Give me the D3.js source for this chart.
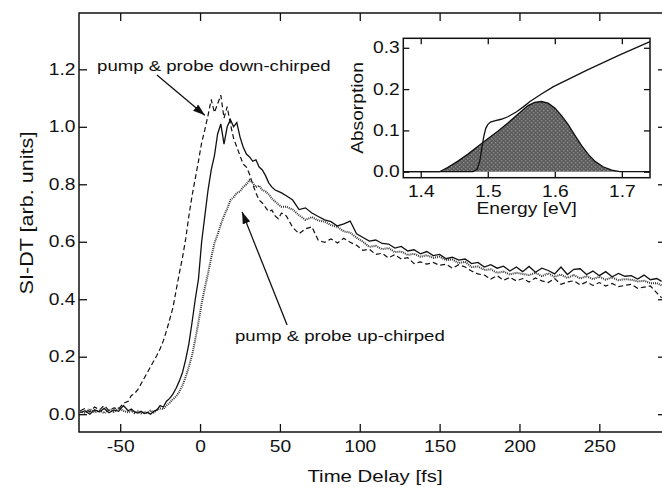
<!DOCTYPE html>
<html>
<head>
<meta charset="utf-8">
<script src="https://cdn.jsdelivr.net/npm/d3@7"></script>
<style>
  body { margin: 0; background: #fff; }
  svg text { font-family: "Liberation Sans", Arial, sans-serif; fill: #111; font-size: 16px; }
</style>
</head>
<body>
<div id="plot"></div>
<script>
// time delay (fs), shared by the three traces
let timeDelay = [-75, -72, -69, -66, -63, -60, -57, -54, -51, -48, -45,
  -43, -41, -39, -37, -35, -33, -31, -29, -27, -25, -23, -21, -19, -17, -15, -13, -11, -9, -7, -5, -3, -1,
  1, 3, 5, 7, 9, 11, 13, 15, 17, 19, 21, 23, 25, 27, 29, 31, 33, 35, 37, 39, 41, 43, 45, 47, 49, 51,
  54, 58, 62, 66, 70, 74, 78, 82, 86, 90, 94, 98, 102, 106, 110, 114, 118, 122, 126, 130,
  134, 138, 142, 146, 150, 154, 158, 162, 166, 170, 174, 178, 182, 186, 190, 194, 198, 202, 206, 210,
  214, 218, 222, 226, 230, 234, 238, 242, 246, 250, 254, 258, 262, 266, 270, 274, 278, 282, 286, 289]

// dashed: pump & probe down-chirped
let downChirped = [0.012, 0.020, 0.008, 0.025, 0.015, 0.030, 0.012, 0.022, 0.018, 0.038, 0.045,
  0.065, 0.072, 0.085, 0.105, 0.125, 0.145, 0.165, 0.185, 0.205, 0.228, 0.255, 0.290, 0.330, 0.370, 0.430, 0.490, 0.545, 0.610, 0.690, 0.760, 0.820, 0.880,
  0.945, 0.990, 1.040, 1.095, 1.050, 1.080, 1.110, 1.030, 1.070, 1.010, 0.960, 0.930, 0.900, 0.870, 0.860, 0.835, 0.800, 0.770, 0.745, 0.735, 0.720, 0.705, 0.710, 0.690, 0.680, 0.700,
  0.690, 0.650, 0.628, 0.645, 0.652, 0.605, 0.598, 0.610, 0.596, 0.612, 0.598, 0.588, 0.570, 0.574, 0.556, 0.560, 0.544, 0.555, 0.540, 0.545,
  0.524, 0.530, 0.522, 0.528, 0.518, 0.522, 0.508, 0.520, 0.512, 0.498, 0.488, 0.484, 0.470, 0.482, 0.466, 0.476, 0.464, 0.472, 0.460, 0.474,
  0.464, 0.458, 0.472, 0.452, 0.460, 0.464, 0.450, 0.460, 0.448, 0.458, 0.446, 0.455, 0.444, 0.448, 0.452, 0.438, 0.442, 0.446, 0.422, 0.405]

// solid trace
let solidTrace = [0.005, 0.012, 0.000, 0.015, 0.008, 0.020, 0.005, 0.015, 0.010, 0.030, 0.012,
  0.018, 0.008, 0.004, 0.010, 0.002, 0.006, 0.000, 0.010, 0.015, 0.030, 0.025, 0.045, 0.055, 0.070, 0.090, 0.115, 0.145, 0.190, 0.245, 0.320, 0.400, 0.470,
  0.600, 0.690, 0.780, 0.850, 0.900, 0.975, 1.010, 0.940, 1.000, 1.025, 1.000, 1.015, 0.965, 0.930, 0.905, 0.895, 0.880, 0.885, 0.860, 0.850, 0.830, 0.805, 0.790, 0.780, 0.775, 0.770,
  0.760, 0.745, 0.712, 0.718, 0.700, 0.688, 0.676, 0.670, 0.655, 0.662, 0.672, 0.628, 0.615, 0.602, 0.606, 0.594, 0.592, 0.578, 0.584, 0.568,
  0.572, 0.558, 0.566, 0.552, 0.556, 0.541, 0.546, 0.536, 0.540, 0.524, 0.528, 0.512, 0.520, 0.508, 0.515, 0.498, 0.512, 0.496, 0.514, 0.494,
  0.508, 0.500, 0.488, 0.512, 0.486, 0.504, 0.506, 0.486, 0.498, 0.482, 0.496, 0.478, 0.490, 0.480, 0.482, 0.470, 0.484, 0.468, 0.472, 0.462]

// dotted: pump & probe up-chirped
let upChirped = [0.010, 0.004, 0.018, 0.006, 0.012, 0.004, 0.016, 0.008, 0.020, 0.012, 0.006,
  0.012, 0.004, 0.010, 0.003, 0.008, 0.004, 0.012, 0.006, 0.014, 0.020, 0.018, 0.030, 0.040, 0.052, 0.062, 0.078, 0.100, 0.130, 0.165, 0.205, 0.260, 0.320,
  0.385, 0.440, 0.490, 0.545, 0.595, 0.625, 0.660, 0.690, 0.715, 0.745, 0.755, 0.770, 0.775, 0.790, 0.800, 0.815, 0.805, 0.790, 0.795, 0.780, 0.775, 0.765, 0.750, 0.740, 0.730, 0.722,
  0.722, 0.712, 0.692, 0.676, 0.686, 0.674, 0.670, 0.658, 0.652, 0.636, 0.632, 0.614, 0.600, 0.582, 0.586, 0.574, 0.578, 0.564, 0.566, 0.554,
  0.558, 0.548, 0.553, 0.544, 0.548, 0.536, 0.538, 0.526, 0.530, 0.512, 0.514, 0.502, 0.504, 0.492, 0.496, 0.486, 0.492, 0.488, 0.484, 0.492,
  0.480, 0.490, 0.478, 0.486, 0.474, 0.484, 0.472, 0.480, 0.470, 0.478, 0.468, 0.476, 0.466, 0.470, 0.468, 0.462, 0.464, 0.456, 0.456, 0.448]

let xTicks = [-50, 0, 50, 100, 150, 200, 250]
let yTicks = [0, 0.2, 0.4, 0.6, 0.8, 1.0, 1.2]

// inset: absorption and laser spectrum vs energy (eV)
let absEnergy = [1.374, 1.478, 1.484, 1.488, 1.491, 1.494, 1.497, 1.500, 1.504, 1.510, 1.520, 1.530, 1.543, 1.553, 1.563, 1.580, 1.598, 1.648, 1.697, 1.742]
let absorption = [0, 0, 0.006, 0.025, 0.055, 0.085, 0.105, 0.114, 0.120, 0.123, 0.127, 0.133, 0.145, 0.157, 0.170, 0.188, 0.206, 0.246, 0.283, 0.315]

let specEnergy = [1.374, 1.428, 1.440, 1.455, 1.470, 1.485, 1.500, 1.515, 1.530, 1.545, 1.560, 1.570, 1.580, 1.590, 1.600, 1.610, 1.620, 1.630, 1.640, 1.650, 1.660, 1.672, 1.685, 1.697, 1.742]
let spectrum = [0, 0, 0.010, 0.025, 0.042, 0.061, 0.080, 0.098, 0.118, 0.139, 0.160, 0.168, 0.170, 0.166, 0.154, 0.136, 0.114, 0.088, 0.063, 0.042, 0.025, 0.012, 0.004, 0, 0]

let insetXTicks = [1.4, 1.5, 1.6, 1.7]
let insetYTicks = [0, 0.1, 0.2, 0.3]

let svgWidth = 662
let svgHeight = 487
let margin = { top: 13, left: 79 }
let width = 585
let height = 419
let stretch = 1.2

let svg = d3.select("#plot")
  .append("svg")
  .attr("width", svgWidth)
  .attr("height", svgHeight)

let defs = svg.append("defs")

defs.append("marker")
  .attr("id", "head")
  .attr("markerUnits", "userSpaceOnUse")
  .attr("markerWidth", 12)
  .attr("markerHeight", 8)
  .attr("refX", 12)
  .attr("refY", 4)
  .attr("orient", "auto")
  .append("path")
  .attr("d", "M0,0 L12,4 L0,8 Z")
  .attr("fill", "#111")

let stipple = defs.append("pattern")
  .attr("id", "stipple")
  .attr("patternUnits", "userSpaceOnUse")
  .attr("width", 4)
  .attr("height", 4)
stipple.append("rect").attr("width", 4).attr("height", 4).attr("fill", "#5a5a5a")
stipple.append("rect").attr("x", 0).attr("y", 0).attr("width", 1).attr("height", 1).attr("fill", "#c8c8c8")
stipple.append("rect").attr("x", 2).attr("y", 2).attr("width", 1).attr("height", 1).attr("fill", "#b0b0b0")

function widen(sel) {
  sel.attr("transform", `scale(${stretch},1)`)
}

// plain hyphen for negatives, as in the original
let plainInt = d => String(d)

let chart = svg.append("g")
  .attr("transform", `translate(${margin.left}, ${margin.top})`)

let x = d3.scaleLinear().domain([-75.8, 290.5]).range([0, width])
let y = d3.scaleLinear().domain([-0.062, 1.396]).range([height, 0])

chart.append("clipPath").attr("id", "clip")
  .append("rect").attr("width", width).attr("height", height)

function styleAxis(g) {
  g.select(".domain").remove()
  g.selectAll(".tick line").attr("stroke", "#111").attr("stroke-width", 1.3)
}

chart.append("g")
  .attr("transform", `translate(0, ${height})`)
  .call(d3.axisBottom(x).tickValues(xTicks).tickFormat(plainInt).tickSizeInner(-8).tickSizeOuter(0).tickPadding(9))
  .call(styleAxis)
  .selectAll("text").call(widen)

chart.append("g")
  .call(d3.axisTop(x).tickValues(xTicks).tickFormat("").tickSizeInner(-8).tickSizeOuter(0))
  .call(styleAxis)

chart.append("g")
  .call(d3.axisLeft(y).tickValues(yTicks).tickFormat(d3.format(".1f")).tickSizeInner(-8).tickSizeOuter(0).tickPadding(3))
  .call(styleAxis)
  .selectAll("text").call(widen)

chart.append("g")
  .attr("transform", `translate(${width}, 0)`)
  .call(d3.axisRight(y).tickValues(yTicks).tickFormat("").tickSizeInner(-6).tickSizeOuter(0))
  .call(styleAxis)

let line = d3.line()
  .x(d => x(d[0]))
  .y(d => y(d[1]))

let traces = chart.append("g").attr("clip-path", "url(#clip)")

traces.append("path")
  .datum(d3.zip(timeDelay, downChirped))
  .attr("d", line)
  .attr("fill", "none")
  .attr("stroke", "#111")
  .attr("stroke-width", 1.2)
  .attr("stroke-dasharray", "5,3")

traces.append("path")
  .datum(d3.zip(timeDelay, upChirped))
  .attr("d", line)
  .attr("fill", "none")
  .attr("stroke", "#333")
  .attr("stroke-width", 2)
  .attr("stroke-dasharray", "1,1")

traces.append("path")
  .datum(d3.zip(timeDelay, solidTrace))
  .attr("d", line)
  .attr("fill", "none")
  .attr("stroke", "#111")
  .attr("stroke-width", 1.3)

chart.append("rect")
  .attr("width", width)
  .attr("height", height)
  .attr("fill", "none")
  .attr("stroke", "#111")
  .attr("stroke-width", 1.5)

// annotations, placed in data units
chart.append("line")
  .attr("x1", x(-27)).attr("y1", y(1.18))
  .attr("x2", x(3)).attr("y2", y(1.04))
  .attr("stroke", "#111").attr("stroke-width", 1.3)
  .attr("marker-end", "url(#head)")

chart.append("line")
  .attr("x1", x(54.5)).attr("y1", y(0.31))
  .attr("x2", x(26.3)).attr("y2", y(0.704))
  .attr("stroke", "#111").attr("stroke-width", 1.3)
  .attr("marker-end", "url(#head)")

chart.append("text")
  .attr("transform", `translate(${x(-64.5)}, ${y(1.195)}) scale(${stretch},1)`)
  .style("font-size", "15.5px")
  .text("pump & probe down-chirped")

chart.append("text")
  .attr("transform", `translate(${x(21.9)}, ${y(0.255)}) scale(${stretch},1)`)
  .style("font-size", "15.5px")
  .text("pump & probe up-chirped")

svg.append("text")
  .attr("transform", `translate(375, 482) scale(${stretch},1)`)
  .attr("text-anchor", "middle")
  .style("font-size", "17px")
  .text("Time Delay [fs]")

svg.append("text")
  .attr("transform", `translate(33, 213) rotate(-90) scale(${stretch},1)`)
  .attr("text-anchor", "middle")
  .style("font-size", "18px")
  .text("SI-DT [arb. units]")

// inset
let inset = svg.append("g").attr("transform", "translate(403.3, 38.3)")
let insetWidth = 246.7
let insetHeight = 139.4

let ex = d3.scaleLinear().domain([1.374, 1.742]).range([0, insetWidth])
let ey = d3.scaleLinear().domain([-0.0145, 0.323]).range([insetHeight, 0])

inset.append("rect")
  .attr("width", insetWidth)
  .attr("height", insetHeight)
  .attr("fill", "#fff")

inset.append("path")
  .datum(d3.zip(specEnergy, spectrum))
  .attr("d", d3.area().x(d => ex(d[0])).y0(ey(0)).y1(d => ey(d[1])))
  .attr("fill", "url(#stipple)")

inset.append("path")
  .datum(d3.zip(specEnergy, spectrum))
  .attr("d", d3.line().x(d => ex(d[0])).y(d => ey(d[1])))
  .attr("fill", "none")
  .attr("stroke", "#111")
  .attr("stroke-width", 1.3)

inset.append("path")
  .datum(d3.zip(absEnergy, absorption))
  .attr("d", d3.line().x(d => ex(d[0])).y(d => ey(d[1])))
  .attr("fill", "none")
  .attr("stroke", "#111")
  .attr("stroke-width", 1.3)

inset.append("g")
  .attr("transform", `translate(0, ${insetHeight})`)
  .call(d3.axisBottom(ex).tickValues(insetXTicks).tickFormat(d3.format(".1f")).tickSizeInner(-6).tickSizeOuter(0).tickPadding(7.5))
  .call(styleAxis)
  .selectAll("text").call(widen)

inset.append("g")
  .call(d3.axisTop(ex).tickValues(insetXTicks).tickFormat("").tickSizeInner(-6).tickSizeOuter(0))
  .call(styleAxis)

inset.append("g")
  .call(d3.axisLeft(ey).tickValues(insetYTicks).tickFormat(d3.format(".1f")).tickSizeInner(-6).tickSizeOuter(0).tickPadding(3))
  .call(styleAxis)
  .selectAll("text").call(widen)

inset.append("g")
  .attr("transform", `translate(${insetWidth}, 0)`)
  .call(d3.axisRight(ey).tickValues(insetYTicks).tickFormat("").tickSizeInner(-6).tickSizeOuter(0))
  .call(styleAxis)

inset.append("rect")
  .attr("width", insetWidth)
  .attr("height", insetHeight)
  .attr("fill", "none")
  .attr("stroke", "#111")
  .attr("stroke-width", 1.5)

inset.append("text")
  .attr("transform", `translate(${insetWidth / 2}, 175.7) scale(${stretch},1)`)
  .attr("text-anchor", "middle")
  .text("Energy [eV]")

inset.append("text")
  .attr("transform", `translate(-40.5, ${insetHeight / 2}) rotate(-90) scale(${stretch},1)`)
  .attr("text-anchor", "middle")
  .text("Absorption")
</script>
</body>
</html>
